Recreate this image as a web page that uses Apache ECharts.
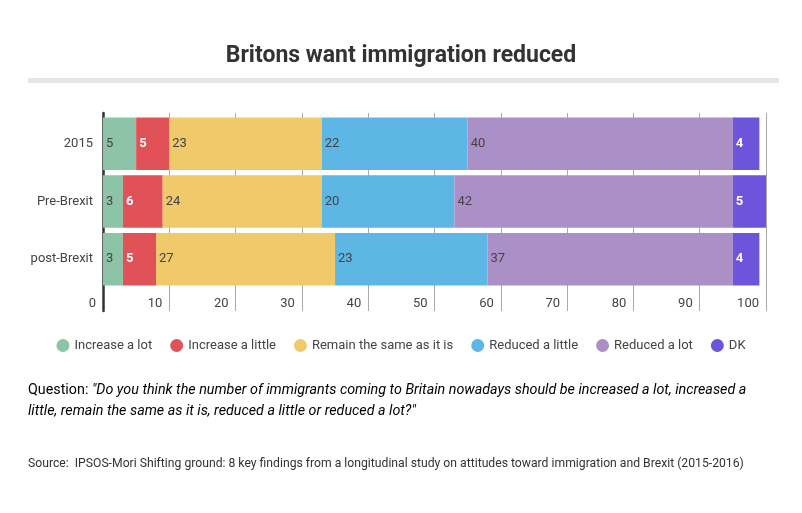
<!DOCTYPE html>
<html><head><meta charset="utf-8">
<script src="https://cdn.jsdelivr.net/npm/echarts@6/dist/echarts.min.js"></script>
<style>html,body{margin:0;padding:0;background:#fff}#c{width:802px;height:513px}</style>
</head><body><div id="c"></div>
<script>
const categories = ['2015', 'Pre-Brexit', 'post-Brexit'];
const seriesNames = ['Increase a lot', 'Increase a little', 'Remain the same as it is', 'Reduced a little', 'Reduced a lot', 'DK'];
const increaseALot = [5, 3, 3];
const increaseALittle = [5, 6, 5];
const remainSame = [23, 24, 27];
const reducedALittle = [22, 20, 23];
const reducedALot = [40, 42, 37];
const dk = [4, 5, 4];
const xTicks = [0, 10, 20, 30, 40, 50, 60, 70, 80, 90, 100];
const colors = ['#8dc3a7', '#e05257', '#efc96a', '#5db6e4', '#ab90c7', '#6c55da'];
const whiteLabel = [false, true, false, false, false, true];
const values = [increaseALot, increaseALittle, remainSame, reducedALittle, reducedALot, dk];

const chart = echarts.init(document.getElementById('c'));
const font = 'Roboto, "Open Sans", sans-serif';
const xMin = xTicks[0], xMax = xTicks[xTicks.length - 1];
chart.setOption({
  animation: false,
  textStyle: { fontFamily: font },
  title: {
    text: 'Britons want immigration reduced', left: 'center', top: 40,
    textStyle: { fontFamily: font, fontSize: 23, fontWeight: 'bold', color: '#333' }
  },
  legend: {
    data: seriesNames, top: 334, left: 'center', icon: 'circle', itemWidth: 13, itemHeight: 13, itemGap: 18,
    textStyle: { fontFamily: font, fontSize: 13, color: '#444' }
  },
  grid: [
    { left: 103, right: 36, top: 115, bottom: 225 },
    { left: 103, right: 36, top: 113, bottom: 202 }
  ],
  xAxis: [
    { type: 'value', gridIndex: 0, min: xMin, max: xMax, interval: 10,
      axisLine: { show: false }, axisTick: { show: false }, splitLine: { show: false }, axisLabel: { show: false } },
    { type: 'value', gridIndex: 1, min: xMin, max: xMax, interval: 10,
      axisLine: { show: false }, axisTick: { show: false },
      splitLine: { lineStyle: { color: '#aaa', width: 1 } },
      axisLabel: { inside: true, fontFamily: font, fontSize: 13, color: '#444', align: 'right', margin: 1, padding: [0, 7, 0, 0] } }
  ],
  yAxis: [
    { type: 'category', gridIndex: 0, data: categories, inverse: true,
      axisLine: { show: false }, axisTick: { show: false },
      axisLabel: { fontFamily: font, fontSize: 13, color: '#444', margin: 10 } },
    { type: 'value', gridIndex: 1, min: 0, max: 1,
      axisLine: { show: true, onZero: false, lineStyle: { color: '#333', width: 2.5 } },
      axisTick: { show: false }, axisLabel: { show: false }, splitLine: { show: false } }
  ],
  series: seriesNames.map((n, i) => ({
    name: n, type: 'bar', stack: 'all', data: values[i], barCategoryGap: '9%',
    xAxisIndex: 0, yAxisIndex: 0, z: 3,
    itemStyle: { color: colors[i] },
    label: {
      show: true, position: 'insideLeft', distance: 3, fontFamily: font, fontSize: 13,
      color: whiteLabel[i] ? '#fff' : '#444', fontWeight: whiteLabel[i] ? 'bold' : 'normal'
    }
  })),
  graphic: [
    { type: 'rect', shape: { x: 28, y: 78, width: 751, height: 5 }, style: { fill: '#e6e6e6' } },
    { type: 'text', left: 28, top: 383, style: {
      text: '{n|Question: }{i|"Do you think the number of immigrants coming to Britain nowadays should be increased a lot, increased a}\n{i|little, remain the same as it is, reduced a little or reduced a lot?"}',
      rich: {
        n: { fontFamily: font, fontSize: 14.3, color: '#333', lineHeight: 21 },
        i: { fontFamily: font, fontSize: 14.3, color: '#333', fontStyle: 'italic', lineHeight: 21 }
      }
    } },
    { type: 'text', left: 28, top: 458, style: {
      text: 'Source:  IPSOS-Mori Shifting ground: 8 key findings from a longitudinal study on attitudes toward immigration and Brexit (2015-2016)',
      fontFamily: font, fontSize: 12.2, fill: '#333'
    } }
  ]
});
</script></body></html>
